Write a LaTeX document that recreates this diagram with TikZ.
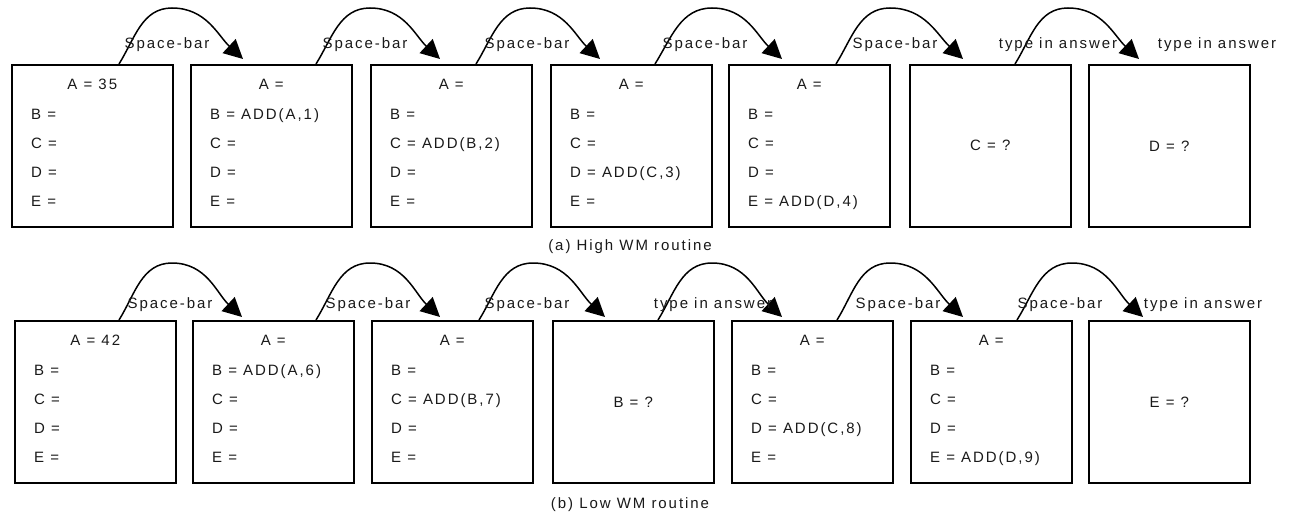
\documentclass[tikz,border=0pt]{standalone}
\usepackage{fontspec}
\setmainfont{Liberation Sans}[LetterSpace=13]
\usetikzlibrary{arrows.meta,calc}

\newcommand\wmregs[8]{%
  \node[regbox] (#1) at (#2,#3) {};
  \node[txt,anchor=base] at ($(#1.north)+(0,25)$) {#4};
  \node[txt,anchor=base west] at ($(#1.north west)+(20,55)$) {#5};
  \node[txt,anchor=base west] at ($(#1.north west)+(20,84)$) {#6};
  \node[txt,anchor=base west] at ($(#1.north west)+(20,113)$) {#7};
  \node[txt,anchor=base west] at ($(#1.north west)+(20,142)$) {#8};
}
\newcommand\wmask[4]{%
  \node[regbox,txt] (#1) at (#2,#3) {#4};
}
% from, start offset, peak offset, peak dy, to, tip offset, tip lift
\newcommand\wmhop[7]{%
  \draw[conn] ([xshift=#2pt]#1.north west) to[out=58,in=180]
    ($(#1.north west)+(#3,#4)$) to[out=0,in=137]
    ([xshift=#6pt,yshift=#7pt]#5.north west);
}

\begin{document}
\begin{tikzpicture}[x=1pt,y=-1pt,
  regbox/.style={draw=black, line width=1.6pt, minimum width=161pt,
    minimum height=162pt, inner sep=0pt, anchor=north west},
  txt/.style={font=\fontsize{15}{17}\selectfont, text=black!90, inner sep=0pt},
  conn/.style={line width=1.5pt, black, -{Triangle[length=19pt,width=19pt]}},
]
\useasboundingbox (0,0) rectangle (1291,514);

% ---------- (a) High WM routine ----------
\wmregs{ta}{11}{64}{A = 35}{B =}{C =}{D =}{E =}
\wmregs{tb}{190}{64}{A =}{B = ADD(A,1)}{C =}{D =}{E =}
\wmregs{tc}{370}{64}{A =}{B =}{C = ADD(B,2)}{D =}{E =}
\wmregs{td}{550}{64}{A =}{B =}{C =}{D = ADD(C,3)}{E =}
\wmregs{te}{728}{64}{A =}{B =}{C =}{D =}{E = ADD(D,4)}
\wmask{tf}{909}{64}{C = ?}
\wmask{tg}{1088}{64}{D = ?}

\wmhop{ta}{108}{161}{-56}{tb}{53}{5}
\wmhop{tb}{126}{180}{-56}{tc}{70}{5}
\wmhop{tc}{106}{160}{-56}{td}{50}{5}
\wmhop{td}{105}{162}{-56}{te}{54}{5}
\wmhop{te}{108}{162}{-56}{tf}{54}{5}
\wmhop{tf}{106}{159}{-56}{tg}{51}{5}

\node[txt,anchor=base] (la1) at (167,48) {Space-bar};
\node[txt,anchor=base] (la2) at (365,48) {Space-bar};
\node[txt,anchor=base] (la3) at (527,48) {Space-bar};
\node[txt,anchor=base] (la4) at (705,48) {Space-bar};
\node[txt,anchor=base] (la5) at (895,48) {Space-bar};
\node[txt,anchor=base] (la6) at (1058,48) {type in answer};
\node[txt,anchor=base] (la7) at (1217,48) {type in answer};

\node[txt,anchor=base] (capa) at (630,250) {(a) High WM routine};

% ---------- (b) Low WM routine ----------
\wmregs{ba}{14}{320}{A = 42}{B =}{C =}{D =}{E =}
\wmregs{bb}{192}{320}{A =}{B = ADD(A,6)}{C =}{D =}{E =}
\wmregs{bc}{371}{320}{A =}{B =}{C = ADD(B,7)}{D =}{E =}
\wmask{bd}{552}{320}{B = ?}
\wmregs{be}{731}{320}{A =}{B =}{C =}{D = ADD(C,8)}{E =}
\wmregs{bf}{910}{320}{A =}{B =}{C =}{D =}{E = ADD(D,9)}
\wmask{bg}{1088}{320}{E = ?}

\wmhop{ba}{105}{158}{-57}{bb}{50}{3}
\wmhop{bb}{124}{178}{-57}{bc}{69}{3}
\wmhop{bc}{108}{162}{-57}{bd}{53}{3}
\wmhop{bd}{106}{160}{-57}{be}{51}{3}
\wmhop{be}{106}{159}{-57}{bf}{53}{3}
\wmhop{bf}{107}{162}{-57}{bg}{55}{3}

\node[txt,anchor=base] (lb1) at (170,308) {Space-bar};
\node[txt,anchor=base] (lb2) at (368,308) {Space-bar};
\node[txt,anchor=base] (lb3) at (527,308) {Space-bar};
\node[txt,anchor=base] (lb4) at (713,308) {type in answer};
\node[txt,anchor=base] (lb5) at (898,308) {Space-bar};
\node[txt,anchor=base] (lb6) at (1060,308) {Space-bar};
\node[txt,anchor=base] (lb7) at (1203,308) {type in answer};

\node[txt,anchor=base] (capb) at (630,508) {(b) Low WM routine};
\end{tikzpicture}
\end{document}
